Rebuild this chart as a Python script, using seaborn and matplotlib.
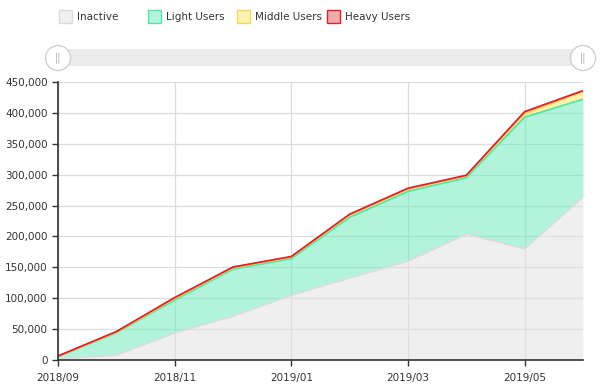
import numpy as np
import pandas as pd
import matplotlib
matplotlib.use("Agg")
import matplotlib.pyplot as plt
import seaborn as sns
from matplotlib.patches import Rectangle, Ellipse
from matplotlib.ticker import FuncFormatter

# %% Data
months = ['2018/09', '2018/10', '2018/11', '2018/12', '2019/01',
          '2019/02', '2019/03', '2019/04', '2019/05', '2019/06']
inactive = [2000, 8000, 44000, 71000, 105000, 133000, 160000, 204000, 180000, 264000]
light_users = [3500, 36000, 53000, 76000, 59000, 98000, 113000, 91000, 213000, 158000]
middle_users = [500, 1000, 2500, 2500, 2500, 3500, 3500, 3000, 6000, 12500]
heavy_users = [500, 1000, 1500, 1000, 1000, 1500, 1500, 1000, 3000, 1500]

series_names = ['Inactive', 'Light Users', 'Middle Users', 'Heavy Users']
# fills are semi transparent so the grid shows through, like the original
fill_colors = ['#e1e1e1', '#65ebb9', '#f9e761', '#eb5357']
legend_fills = ['#f0f0f0', '#b2f5dc', '#fcf3b0', '#f5a9ab']
line_colors = ['#dcdcdc', '#4fe6a8', '#f2d94e', '#e0202a']

# %% Build table of stacked tops
df = pd.DataFrame({'month': months, 'Inactive': inactive, 'Light Users': light_users,
                   'Middle Users': middle_users, 'Heavy Users': heavy_users})
df['x'] = np.arange(len(months))
tops = df[series_names].cumsum(axis=1)
tops['x'] = df['x']

# %% Plot
sns.set_style('white')
plt.rcParams['font.family'] = ['DejaVu Sans']
fig = plt.figure(figsize=(6, 3.88), dpi=100)
ax = fig.add_axes([58 / 600, 28 / 388, 525 / 600, 278 / 388])

lower = np.zeros(len(months))
for name, fc in zip(series_names, fill_colors):
    upper = tops[name].values
    ax.fill_between(df['x'], lower, upper, color=fc, alpha=0.5, linewidth=0, zorder=2)
    lower = upper
for name, lc in zip(series_names, line_colors):
    sns.lineplot(data=tops, x='x', y=name, ax=ax, color=lc, linewidth=1.3, zorder=3)

ax.set_xlim(0, len(months) - 1)
ax.set_ylim(0, 450000)
ax.set_xticks(df['x'][::2])
ax.set_xticklabels(months[::2])
ax.set_yticks(np.arange(0, 450001, 50000))
ax.yaxis.set_major_formatter(FuncFormatter(lambda v, p: f'{int(v):,}'))
ax.set_xlabel('')
ax.set_ylabel('')
ax.grid(True, color='#dcdcdc', linewidth=0.9, zorder=0)
ax.set_axisbelow(True)
for s in ['top', 'right']:
    ax.spines[s].set_visible(False)
for s in ['left', 'bottom']:
    ax.spines[s].set_color('#333333')
    ax.spines[s].set_linewidth(1.2)
    ax.spines[s].set_zorder(5)
ax.tick_params(axis='both', direction='out', length=4, width=1, color='#333333',
               labelsize=7.5, labelcolor='#333333', left=True, bottom=True)
ax.tick_params(axis='x', pad=5)

# %% Legend across the top
legend_x = [59, 148, 237, 327]
for x0, name, fc, lc in zip(legend_x, series_names, legend_fills, line_colors):
    edge = '#dcdcdc' if name == 'Inactive' else lc
    fig.patches.append(Rectangle((x0 / 600, 1 - 23 / 388), 13 / 600, 13 / 388,
                                 transform=fig.transFigure, facecolor=fc,
                                 edgecolor=edge, linewidth=1))
    fig.text((x0 + 18) / 600, 1 - 16.5 / 388, name, fontsize=7.5, color='#333333',
             va='center', ha='left')

# %% Scrollbar
fig.patches.append(Rectangle((58 / 600, 1 - 66 / 388), 525 / 600, 17 / 388,
                             transform=fig.transFigure, facecolor='#ebebeb',
                             edgecolor='none'))
for cx in [58, 583]:
    fig.patches.append(Ellipse((cx / 600, 1 - 58 / 388), 25 / 600, 25 / 388,
                               transform=fig.transFigure, facecolor='white',
                               edgecolor='#d0d0d0', linewidth=1))
    fig.text(cx / 600, 1 - 58 / 388, '||', fontsize=7, color='#aaaaaa',
             ha='center', va='center')

fig.savefig('out.png', dpi=100)
